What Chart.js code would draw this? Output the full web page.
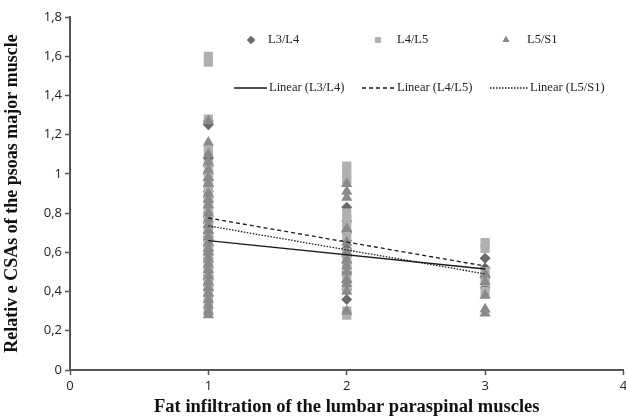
<!DOCTYPE html>
<html>
<head>
<meta charset="utf-8">
<script src="https://cdn.jsdelivr.net/npm/chart.js@4"></script>
<style>
  html, body { margin: 0; padding: 0; background: #fff; overflow: hidden; }
  #wrap { width: 626px; height: 418px; overflow: hidden; }
</style>
</head>
<body>
<div id="wrap"><canvas id="chart" width="630" height="418"></canvas></div>
<script>
// fat infiltration grade and relative CSA values
const l3l4Grade1 = [1.27, 1.25, 1.08, 1.04, 1.0, 0.97, 0.94, 0.91, 0.88, 0.86, 0.83, 0.8, 0.78, 0.75, 0.73, 0.7, 0.68, 0.66, 0.63, 0.61, 0.59, 0.57, 0.55, 0.52, 0.5, 0.48, 0.46, 0.43, 0.41, 0.38];
const l3l4Grade2 = [0.83, 0.76, 0.7, 0.66, 0.62, 0.58, 0.55, 0.5, 0.45, 0.41, 0.36];
const l3l4Grade3 = [0.57, 0.52, 0.47, 0.42];

const l4l5Grade1 = [1.6, 1.57, 1.28, 1.12, 1.05, 1.0, 0.95, 0.92, 0.88, 0.85, 0.82, 0.79, 0.76, 0.74, 0.71, 0.69, 0.66, 0.64, 0.61, 0.58, 0.55, 0.52, 0.49, 0.46, 0.43, 0.4, 0.37, 0.34, 0.31, 0.29];
const l4l5Grade2 = [1.04, 1.0, 0.97, 0.8, 0.77, 0.73, 0.68, 0.6, 0.55, 0.52, 0.47, 0.42, 0.3, 0.28];
const l4l5Grade3 = [0.65, 0.62, 0.5, 0.45, 0.4];

const l5s1Grade1 = [1.27, 1.16, 1.1, 1.06, 1.02, 0.98, 0.95, 0.9, 0.87, 0.84, 0.8, 0.77, 0.74, 0.71, 0.68, 0.65, 0.62, 0.6, 0.57, 0.54, 0.51, 0.48, 0.45, 0.42, 0.39, 0.36, 0.33, 0.3, 0.28];
const l5s1Grade2 = [0.95, 0.91, 0.88, 0.72, 0.65, 0.6, 0.56, 0.53, 0.5, 0.46, 0.44, 0.4, 0.3];
const l5s1Grade3 = [0.49, 0.45, 0.38, 0.31, 0.29];

// linear trend endpoints at grade 1 and grade 3
const trendX = [1, 3];
const trendL3L4 = [0.66, 0.515];
const trendL4L5 = [0.775, 0.53];
const trendL5S1 = [0.735, 0.49];

const yTicks = [0, 0.2, 0.4, 0.6, 0.8, 1, 1.2, 1.4, 1.6, 1.8];

function pts(grades) {
    const out = [];
    grades.forEach((vals, i) => vals.forEach(v => out.push({ x: i + 1, y: v })));
    return out;
}
function line(ys) {
    return trendX.map((x, i) => ({ x, y: ys[i] }));
}

const ctx = document.getElementById("chart").getContext("2d");

const legendBox = {
    id: "legendBox",
    afterDatasetsDraw(chart) {
        const c = chart.ctx;
        const ds = chart.data.datasets;
        c.save();
        c.font = "12.5px 'Liberation Serif'";
        c.textBaseline = "middle";

        // marker row
        const row1 = [[251, 268, ds[0]], [378, 397, ds[1]], [506, 527, ds[2]]];
        row1.forEach(([mx, tx, d]) => {
            c.fillStyle = d.backgroundColor;
            Chart.helpers.drawPoint(c, { pointStyle: d.pointStyle, radius: 4, rotation: 0, borderWidth: 0 }, mx, 40);
            c.fill();
            c.fillStyle = "#222";
            c.fillText(d.label, tx, 40);
        });

        // trend row
        const row2 = [[234, 267, 269, ds[3]], [362, 394, 397, ds[4]], [490, 528, 530, ds[5]]];
        row2.forEach(([x0, x1, tx, d]) => {
            c.strokeStyle = d.borderColor;
            c.lineWidth = d.borderWidth;
            c.setLineDash(d.borderDash || []);
            c.beginPath();
            c.moveTo(x0, 88);
            c.lineTo(x1, 88);
            c.stroke();
            c.setLineDash([]);
            c.fillStyle = "#222";
            c.fillText(d.label, tx, 88);
        });
        c.restore();
    }
};

new Chart(ctx, {
    type: "scatter",
    data: {
        datasets: [
            {
                label: "L3/L4",
                data: pts([l3l4Grade1, l3l4Grade2, l3l4Grade3]),
                pointStyle: "rectRot",
                backgroundColor: "#6a6a6a",
                borderWidth: 0,
                pointRadius: 5.5,
                order: 6
            },
            {
                label: "L4/L5",
                data: pts([l4l5Grade1, l4l5Grade2, l4l5Grade3]),
                pointStyle: "rect",
                backgroundColor: "#b0b0b0",
                borderWidth: 0,
                pointRadius: 6.5,
                order: 5
            },
            {
                label: "L5/S1",
                data: pts([l5s1Grade1, l5s1Grade2, l5s1Grade3]),
                pointStyle: "triangle",
                backgroundColor: "#8a8a8a",
                borderWidth: 0,
                pointRadius: 6.5,
                order: 4
            },
            {
                type: "line",
                label: "Linear (L3/L4)",
                data: line(trendL3L4),
                borderColor: "#1a1a1a",
                borderWidth: 1.3,
                pointRadius: 0,
                fill: false,
                order: 1
            },
            {
                type: "line",
                label: "Linear (L4/L5)",
                data: line(trendL4L5),
                borderColor: "#1a1a1a",
                borderWidth: 1.3,
                borderDash: [4, 3],
                pointRadius: 0,
                fill: false,
                order: 2
            },
            {
                type: "line",
                label: "Linear (L5/S1)",
                data: line(trendL5S1),
                borderColor: "#1a1a1a",
                borderWidth: 1.3,
                borderDash: [1.5, 1.5],
                pointRadius: 0,
                fill: false,
                order: 3
            }
        ]
    },
    options: {
        responsive: false,
        animation: false,
        layout: { padding: { left: 2, top: 17, right: 0, bottom: 0 } },
        plugins: {
            legend: { display: false },
            tooltip: { enabled: false }
        },
        scales: {
            x: {
                type: "linear",
                min: 0,
                max: 4,
                ticks: {
                    stepSize: 1,
                    color: "#222",
                    font: { family: "'Open Sans'", size: 13 },
                    padding: 3
                },
                grid: { drawOnChartArea: false, tickLength: 5, color: "#555", tickWidth: 1.5 },
                border: { color: "#555", width: 2 },
                title: {
                    display: true,
                    text: "Fat infiltration of the lumbar paraspinal muscles",
                    color: "#111",
                    font: { family: "'Liberation Serif'", size: 18.5, weight: "bold" },
                    padding: { top: 0, bottom: 0 }
                },
                afterFit(scale) {
                    scale.height = 48;
                    scale.paddingLeft = 0;
                    scale.paddingRight = 0;
                }
            },
            y: {
                min: 0,
                max: 1.8,
                afterBuildTicks(scale) {
                    scale.ticks = yTicks.map(v => ({ value: v }));
                },
                ticks: {
                    color: "#222",
                    font: { family: "'Open Sans'", size: 13 },
                    padding: 3,
                    callback: v => String(Number(v.toFixed(1))).replace(".", ",")
                },
                grid: { drawOnChartArea: false, tickLength: 5, color: "#555", tickWidth: 1.5 },
                border: { color: "#555", width: 2 },
                title: {
                    display: true,
                    text: "Relativ e CSAs of the psoas major muscle",
                    color: "#111",
                    font: { family: "'Liberation Serif'", size: 18, weight: "bold" },
                    padding: { top: 0, bottom: 0 }
                },
                afterFit(scale) {
                    scale.width = 68;
                    scale.paddingTop = 0;
                    scale.paddingBottom = 0;
                }
            }
        }
    },
    plugins: [legendBox]
});
</script>
</body>
</html>
